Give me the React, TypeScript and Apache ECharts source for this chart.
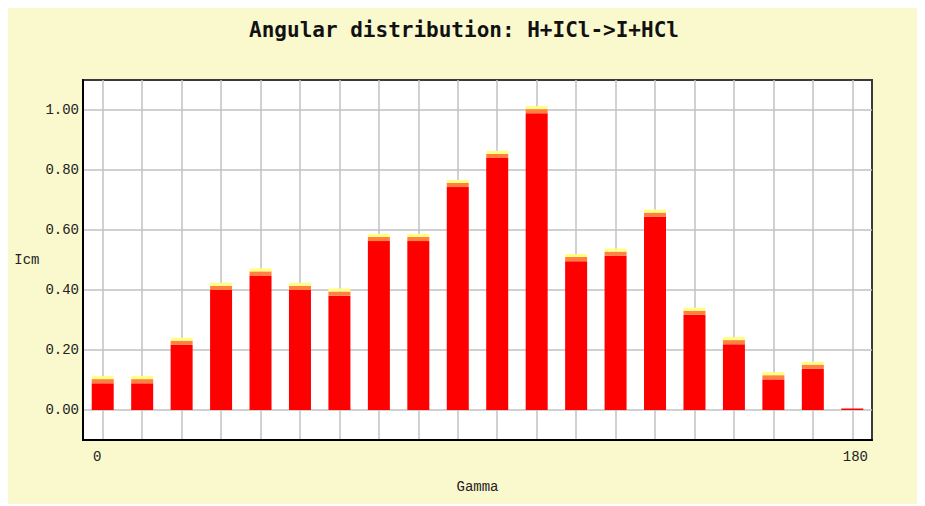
import React, { useEffect, useRef } from "react";
import * as echarts from "echarts";

// Angle bins (bin centres, degrees)
const gammaBins = ["4.5", "13.5", "22.5", "31.5", "40.5", "49.5", "58.5", "67.5", "76.5", "85.5", "94.5", "103.5", "112.5", "121.5", "130.5", "139.5", "148.5", "157.5", "166.5", "175.5"];
// Icm values (red part of each bar)
const icm = [0.089, 0.089, 0.217, 0.4, 0.448, 0.4, 0.381, 0.563, 0.563, 0.743, 0.84, 0.989, 0.496, 0.514, 0.644, 0.317, 0.219, 0.102, 0.137, 0.005];
// Uncertainty bands drawn on top of each bar
const lowerBand = [0.014, 0.014, 0.014, 0.014, 0.014, 0.014, 0.014, 0.014, 0.014, 0.014, 0.014, 0.014, 0.014, 0.014, 0.014, 0.014, 0.014, 0.014, 0.014, 0];
const upperBand = [0.01, 0.01, 0.01, 0.01, 0.01, 0.01, 0.01, 0.01, 0.01, 0.01, 0.01, 0.01, 0.01, 0.01, 0.01, 0.01, 0.01, 0.01, 0.01, 0];
const xTickValues = [0, 180];
const yTickLabels = ["0.00", "0.20", "0.40", "0.60", "0.80", "1.00"];

const MONO = "'Liberation Mono', 'DejaVu Sans Mono', monospace";
const GRID_GRAY = "#c2c2c2";
const CLEAR = "rgba(0,0,0,0)";

export default function App() {
  const ref = useRef<HTMLDivElement>(null);
  useEffect(() => {
    if (!ref.current) return;
    const chart = echarts.init(ref.current, null, { renderer: "svg" });
    chart.setOption({
      animation: false,
      backgroundColor: "#FAF8CD",
      title: {
        text: "Angular distribution: H+ICl->I+HCl",
        left: "center",
        top: 6,
        textStyle: { fontFamily: "'DejaVu Sans Mono', monospace", fontSize: 21, fontWeight: "bold", color: "#111" },
      },
      grid: {
        left: 75,
        top: 72,
        right: 48,
        bottom: 64,
        show: true,
        backgroundColor: "#ffffff",
        borderColor: "#3a3a3a",
        borderWidth: 2,
      },
      xAxis: [
        {
          type: "category",
          data: gammaBins,
          boundaryGap: true,
          position: "bottom",
          axisLine: { show: false },
          axisTick: { show: false },
          axisLabel: { show: false },
          splitLine: { show: false },
        },
        {
          type: "value",
          min: xTickValues[0],
          max: xTickValues[1],
          interval: 180,
          position: "bottom",
          name: "Gamma",
          nameLocation: "middle",
          nameGap: 40,
          nameTextStyle: { fontFamily: MONO, fontSize: 14, color: "#222" },
          axisLine: { show: true, onZero: false, lineStyle: { color: "#000", width: 2 } },
          axisTick: { show: false },
          splitLine: { show: false },
          axisLabel: {
            margin: 10,
            fontFamily: MONO,
            fontSize: 14,
            color: "#222",
            alignMinLabel: "left",
            alignMaxLabel: "right",
            formatter: (v: number) => (v === 0 ? "{l|0}" : "{r|180}"),
            rich: {
              l: { padding: [0, 0, 0, 10], fontFamily: MONO, fontSize: 14, color: "#222" },
              r: { padding: [0, 4, 0, 0], fontFamily: MONO, fontSize: 14, color: "#222" },
            },
          },
        },
        {
          type: "value",
          min: 0,
          max: 180,
          interval: 4.5,
          position: "bottom",
          axisLine: { show: false },
          axisTick: { show: false },
          axisLabel: { show: false },
          splitLine: { show: true, lineStyle: { color: [CLEAR, GRID_GRAY], width: 1.5 } },
        },
      ],
      yAxis: {
        type: "value",
        min: -0.1,
        max: 1.1,
        interval: 0.1,
        name: "Icm",
        nameLocation: "middle",
        nameRotate: 0,
        nameGap: 38,
        nameTextStyle: { fontFamily: MONO, fontSize: 14, color: "#222", align: "right" },
        axisLine: { show: true, onZero: false, lineStyle: { color: "#000", width: 2 } },
        axisTick: { show: false },
        axisLabel: {
          margin: 4,
          fontFamily: MONO,
          fontSize: 14,
          color: "#222",
          formatter: (v: number) => {
            const k = Math.round(v * 10);
            if (k < 0 || k % 2 !== 0) return "";
            return yTickLabels[k / 2] ?? "";
          },
        },
        splitLine: {
          show: true,
          lineStyle: { color: [CLEAR, GRID_GRAY], width: 1.5 },
        },
      },
      series: [
        {
          type: "bar",
          name: "Icm",
          stack: "icm",
          xAxisIndex: 0,
          barWidth: 22,
          data: icm,
          itemStyle: { color: "#ff0000" },
          z: 3,
        },
        {
          type: "bar",
          name: "lower",
          stack: "icm",
          xAxisIndex: 0,
          barWidth: 22,
          data: lowerBand,
          itemStyle: { color: "#ff8040" },
          z: 3,
        },
        {
          type: "bar",
          name: "upper",
          stack: "icm",
          xAxisIndex: 0,
          barWidth: 22,
          data: upperBand,
          itemStyle: { color: "#ffff80" },
          z: 3,
        },
      ],
    });
    return () => chart.dispose();
  }, []);
  return <div ref={ref} style={{ width: 912, height: 496 }} />;
}
